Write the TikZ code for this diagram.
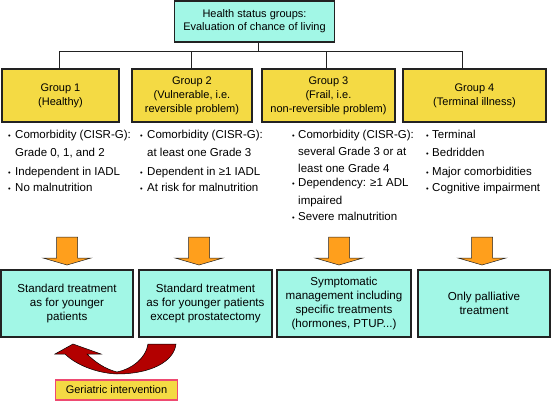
\documentclass[tikz,border=0pt]{standalone}
\usepackage{fontspec}
\setmainfont{Liberation Sans}
\definecolor{aqua}{HTML}{A2F7E6}
\definecolor{gold}{HTML}{F4DA44}
\definecolor{orng}{HTML}{FF9F1C}
\definecolor{dred}{HTML}{B30000}
\definecolor{pinkred}{HTML}{EE4A72}
\definecolor{edge}{HTML}{222222}
\tikzset{
  box/.style={draw=edge, line width=1.1pt, inner sep=0pt, align=center,
    font=\fontsize{11}{14}\selectfont},
  aquabox/.style={box, fill=aqua},
  goldbox/.style={box, fill=gold},
  treatbox/.style={aquabox, font=\fontsize{11.6}{14}\selectfont},
  link/.style={draw=edge, line width=1pt},
  bul/.style={anchor=base west, inner sep=0pt, font=\fontsize{7.5}{8}\selectfont},
  itemtext/.style={anchor=base west, inner sep=0pt,
    font=\fontsize{11.5}{16}\selectfont},
  orarrow/.style={fill=orng, draw=edge, line width=0.5pt, line join=miter},
  redarrow/.style={fill=dred, draw=black, line width=0.5pt},
}
\newcommand\myitem[5]{%
  \node[bul] (#1b) at (#2,#4-0.5) {•};
  \node[itemtext] (#1) at (#3,#4) {\begin{tabular}[t]{@{}l@{}}#5\end{tabular}};
}
\newcommand\blockarr[2]{%
  \draw[orarrow] (#2-10.5,237) -- (#2+10.5,237) -- (#2+10.5,258) -- (#2+24,258)
    -- (#2,265) -- (#2-24,258) -- (#2-10.5,258) -- cycle;
}
\begin{document}
\begin{tikzpicture}[x=1pt,y=-1pt]
\useasboundingbox (0,0) rectangle (552,401);

% top box
\node[aquabox, minimum width=160pt, minimum height=41pt,
  font=\fontsize{11}{13}\selectfont] (top) at (254.5,21.5)
  {Health status groups:\\Evaluation of chance of living};

% group boxes
\node[goldbox, minimum width=117pt, minimum height=53pt] (g1) at (60.5,95.5) {Group 1\\(Healthy)};
\node[goldbox, minimum width=120pt, minimum height=53pt] (g2) at (192,95.5) {Group 2\\(Vulnerable, i.e.\\reversible problem)};
\node[goldbox, minimum width=133pt, minimum height=53pt] (g3) at (328.5,95.5) {Group 3\\(Frail, i.e.\\non-reversible problem)};
\node[goldbox, minimum width=143pt, minimum height=53pt] (g4) at (474.5,95.5) {Group 4\\(Terminal illness)};

% tree connectors
\coordinate (jt) at (258,52);
\coordinate (j1) at (59,52);
\coordinate (j2) at (191,52);
\coordinate (j3) at (326,52);
\coordinate (j4) at (462,52);
\draw[link] (jt |- top.south) -- (jt);
\draw[link] (j1 |- g1.north) -- (j1) -- (j4) -- (j4 |- g4.north);
\draw[link] (j2) -- (j2 |- g2.north);
\draw[link] (j3) -- (j3 |- g3.north);

% bullet lists
\myitem{a1}{8}{15}{139}{Comorbidity (CISR-G):\\[1.5pt]Grade 0, 1, and 2}
\myitem{a2}{8}{15}{176}{Independent in IADL}
\myitem{a3}{8}{15}{192}{No malnutrition}

\myitem{b1}{140}{147}{139}{Comorbidity (CISR-G):\\[1.5pt]at least one Grade 3}
\myitem{b2}{140}{147}{176}{Dependent in ≥1 IADL}
\myitem{b3}{140}{147}{192}{At risk for malnutrition}

\myitem{c1}{292}{298}{139}{Comorbidity (CISR-G):\\[0.5pt]several Grade 3 or at\\[1.5pt]least one Grade 4}
\myitem{c2}{292}{298}{187}{Dependency: ≥1 ADL\\[1.5pt]impaired}
\myitem{c3}{292}{298}{221}{Severe malnutrition}

\myitem{d1}{426}{432}{139}{Terminal}
\myitem{d2}{426}{432}{157}{Bedridden}
\myitem{d3}{426}{432}{176}{Major comorbidities}
\myitem{d4}{426}{432}{192}{Cognitive impairment}

% orange block arrows
\blockarr{o1}{67}
\blockarr{o2}{199}
\blockarr{o3}{339}
\blockarr{o4}{482}

% treatment boxes
\node[treatbox, minimum width=132pt, minimum height=67pt] (t1) at (67,303.5) {Standard treatment\\as for younger\\patients};
\node[treatbox, minimum width=133pt, minimum height=67pt] (t2) at (205.5,303.5) {Standard treatment\\as for younger patients\\except prostatectomy};
\node[treatbox, minimum width=134pt, minimum height=67pt] (t3) at (344,303.5) {Symptomatic\\management including\\specific treatments\\(hormones, PTUP...)};
\node[treatbox, minimum width=132pt, minimum height=67pt] (t4) at (484,303.5) {Only palliative\\treatment};

% red curved arrow
\draw[redarrow] (176,344) .. controls (174,362) and (150,374) .. (117,374)
  .. controls (95,373) and (75,364) .. (65,354) -- (55,354) -- (73,344)
  -- (101,354) -- (87,354) .. controls (95,362) and (105,369) .. (117,372)
  .. controls (132,369) and (146,358) .. (148,344) -- cycle;

% geriatric intervention
\node[box, fill=gold, draw=pinkred, minimum width=122pt, minimum height=20pt] (gi) at (116.5,390) {Geriatric intervention};
\end{tikzpicture}
\end{document}
